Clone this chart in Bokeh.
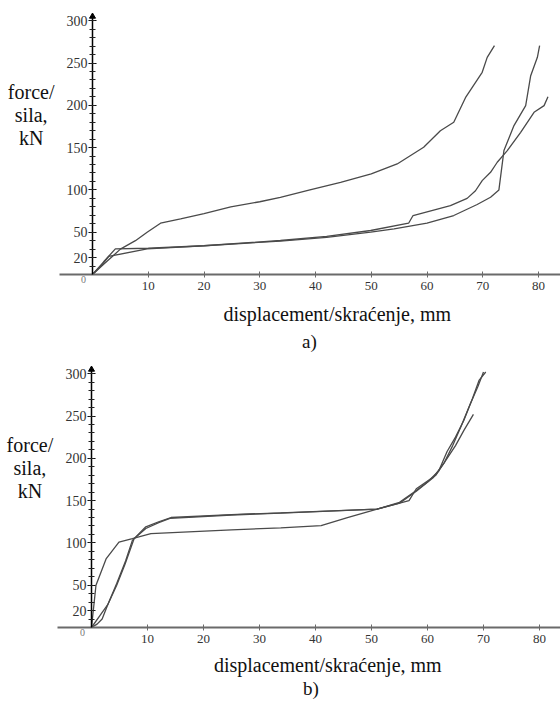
from bokeh.plotting import figure
from bokeh.layouts import column
from bokeh.models import Range1d, FixedTicker, Label
from bokeh.embed import file_html
from bokeh.resources import INLINE

# ---------------- data ----------------
# panel a)
a1_x = [0, 2, 4, 5, 7.7, 9.8, 12.2, 15.8, 20, 24.8, 30, 33.7, 39, 44.5, 50, 54.65, 59.4, 62.4, 64.8, 66.9, 69.9, 70.8, 72.1]
a1_y = [0, 12, 24, 30, 40, 50, 60.6, 65.7, 72, 80, 86, 91.3, 100, 109, 119, 130.7, 150.4, 170, 180, 209, 239, 256.7, 270.5]

a2_x = [0, 2, 4.1, 10, 20, 33.7, 42, 49.9, 56.7, 57.5, 64.2, 67.2, 68.7, 69.9, 71.4, 72.6, 74.4, 76.8, 79.2, 81.0, 81.7]
a2_y = [0, 15, 30.3, 31, 34, 40.2, 45, 52, 60.6, 69.7, 81.5, 90, 99, 111, 120.8, 132.7, 146.5, 168, 191.7, 199.6, 210]

a3_x = [0, 1.5, 2.9, 9.8, 20, 33.7, 42, 49.9, 54.1, 60, 64.8, 69, 71.4, 72.9, 73.8, 75.6, 77.7, 78.6, 79.8, 80.2]
a3_y = [0, 10, 21.3, 30.3, 34, 39.5, 44, 50, 54, 60.6, 69.7, 82.7, 91.3, 100, 146.5, 176, 199.6, 235, 256.7, 270.5]

# panel b)
b1_x = [0, 0.8, 2.6, 4.9, 7.3, 10.6, 25, 33.8, 41, 45.7, 51, 56.7, 58, 61.5, 63, 65, 66.5, 68.2]
b1_y = [0, 50, 81, 101, 105, 111, 115.5, 117.8, 120.5, 130, 140, 150, 164, 180, 195, 215, 233, 252]

b2_x = [0, 1, 1.9, 2.9, 4.5, 6.1, 7.3, 9.7, 12, 14.2, 25, 33.8, 51, 55, 58, 60, 62, 63.5, 65, 66.5, 68, 69.2, 70.4]
b2_y = [0, 4, 10, 27, 52, 79, 103, 119, 125, 130, 133.5, 135.5, 140, 148, 162, 172, 185, 208, 225, 245, 270, 292, 302]

b3_x = [0, 1.5, 2.9, 4.5, 6.0, 7.6, 9.7, 12, 14, 25, 33.8, 51, 55, 58, 61, 63, 64.5, 66, 67.5, 69, 70]
b3_y = [0, 14, 27, 50, 75, 105, 117, 124, 129, 133, 135.3, 140, 147, 161, 177, 195, 215, 238, 262, 285, 302]

x_ticks = [10, 20, 30, 40, 50, 60, 70, 80]
y_ticks = [20, 50, 100, 150, 200, 250, 300]
y_minor = list(range(10, 310, 10))

SERIF = "Liberation Serif"
CURVE = "#4a4a4a"
W = 560


def make_panel(height, x0_px, xscale, y0_px, yscale, curves, letter, disp_xy, letter_xy):
    xstart = -x0_px / xscale
    xend = xstart + W / xscale
    yend = y0_px / yscale
    ystart = -(height - y0_px) / yscale
    p = figure(width=W, height=height, output_backend="svg", toolbar_location=None,
               x_range=Range1d(xstart, xend), y_range=Range1d(ystart, yend),
               min_border_left=0, min_border_right=0, min_border_top=0,
               min_border_bottom=0)
    p.outline_line_color = None
    p.xgrid.visible = False
    p.ygrid.visible = False
    p.background_fill_color = "white"
    p.border_fill_color = "white"

    # x axis fixed at y = 0
    xa = p.xaxis[0]
    xa.fixed_location = 0
    xa.ticker = FixedTicker(ticks=x_ticks)
    xa.bounds = (-6, xend)
    xa.axis_line_color = "#6a6a6a"
    xa.axis_line_width = 2
    xa.major_tick_line_color = "#6a6a6a"
    xa.major_tick_in = 3
    xa.major_tick_out = 3
    xa.minor_tick_line_color = None
    xa.major_label_text_font = SERIF
    xa.major_label_text_font_size = "13px"
    xa.major_label_text_color = "#333333"
    xa.major_label_standoff = 4

    # y axis fixed at x = 0
    ya = p.yaxis[0]
    ya.fixed_location = 0
    ya.ticker = FixedTicker(ticks=y_ticks, minor_ticks=y_minor)
    ya.bounds = (0, 305)
    ya.axis_line_color = "black"
    ya.axis_line_width = 1.5
    ya.major_tick_line_color = "black"
    ya.minor_tick_line_color = "#222222"
    ya.major_tick_in = 4
    ya.major_tick_out = 4
    ya.minor_tick_in = 3
    ya.minor_tick_out = 3
    ya.major_label_text_font = SERIF
    ya.major_label_text_font_size = "14px"
    ya.major_label_text_color = "#333333"
    ya.major_label_standoff = 1

    # arrow head of the y axis
    p.scatter([0], [305], marker="triangle", size=6, color="black")

    for xs, ys in curves:
        p.line(xs, ys, line_color=CURVE, line_width=1.3)

    # texts
    p.add_layout(Label(x=-1.6, y=-6, text="0", text_font=SERIF, text_font_size="10px",
                       text_color="#777777", text_align="center", text_baseline="middle"))
    for t, yy in (("force/", 216), ("sila,", 188), ("kN", 161)):
        p.add_layout(Label(x=-11.0, y=yy, text=t, text_font=SERIF, text_font_size="20px",
                           text_color="#111111", text_align="center", text_baseline="middle"))
    p.add_layout(Label(x=disp_xy[0], y=disp_xy[1], text="displacement/skraćenje, mm",
                       text_font=SERIF, text_font_size="20px", text_color="#111111",
                       text_align="center", text_baseline="middle"))
    p.add_layout(Label(x=letter_xy[0], y=letter_xy[1], text=letter,
                       text_font=SERIF, text_font_size="19px", text_color="#111111",
                       text_align="center", text_baseline="middle"))
    return p


pa = make_panel(355, 92, 5.575, 274, 0.846,
                [(a1_x, a1_y), (a2_x, a2_y), (a3_x, a3_y)],
                "a)", (43.9, -46.1), (38.9, -79.0))
pb = make_panel(346, 91, 5.6, 272, 0.846,
                [(b1_x, b1_y), (b2_x, b2_y), (b3_x, b3_y)],
                "b)", (42.2, -44.9), (39.2, -72.0))

layout = column(pa, pb, spacing=0)
open("out.html", "w").write(file_html(layout, INLINE))
